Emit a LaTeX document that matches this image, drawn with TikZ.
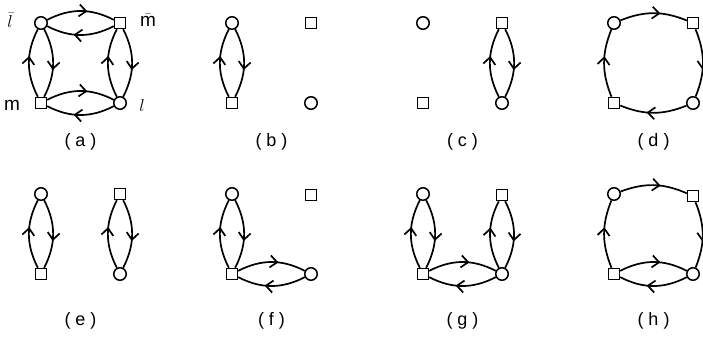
\documentclass[tikz,border=0pt]{standalone}
\usepackage{fontspec}
\setmainfont{Liberation Sans}
\usetikzlibrary{arrows.meta,decorations.markings}
\begin{document}
\begin{tikzpicture}[x=1pt,y=1pt,
 cnode/.style={circle,draw,line width=1.5pt,minimum size=12.5pt,inner sep=0pt},
 snode/.style={rectangle,draw,line width=1.5pt,minimum size=11pt,inner sep=0pt},
 flow/.style={line width=1.7pt, postaction={decorate},
   decoration={markings, mark=at position 0.6 with {\arrow{Straight Barb[length=7pt,width=12pt,line width=1.7pt]}}}},
 lens/.style={bend left=27},
 cyc/.style={bend left=22},
 captxt/.style={font=\fontsize{18}{18}\selectfont},
 lbl/.style={font=\fontsize{19}{19}\selectfont}
]
\useasboundingbox (0,0) rectangle (703,-337);
% (a)
\node[cnode] (a1) at (41,-23) {};
\node[snode] (a2) at (120,-23) {};
\node[snode] (a3) at (41,-103) {};
\node[cnode] (a4) at (120,-103) {};
\draw[flow] (a1) to[lens] (a2); \draw[flow] (a2) to[lens] (a1);
\draw[flow] (a3) to[lens] (a1); \draw[flow] (a1) to[lens] (a3);
\draw[flow] (a4) to[lens] (a2); \draw[flow] (a2) to[lens] (a4);
\draw[flow] (a3) to[lens] (a4); \draw[flow] (a4) to[lens] (a3);
\node[lbl] (tl) at (10,-20) {$\bar{l}$};
\node[lbl] (tm) at (148,-20) {$\bar{\mbox{m}}$};
\node[lbl] (bm) at (12,-105) {m};
\node[lbl] (bl) at (142,-105) {$l$};
\node[captxt] (ca) at (80.5,-142) {( a )};
% (b)
\node[cnode] (b1) at (232,-23) {};
\node[snode] (b2) at (311,-23) {};
\node[snode] (b3) at (232,-103) {};
\node[cnode] (b4) at (311,-103) {};
\draw[flow] (b3) to[lens] (b1); \draw[flow] (b1) to[lens] (b3);
\node[captxt] (cb) at (271.5,-142) {( b )};
% (c)
\node[cnode] (c1) at (423,-23) {};
\node[snode] (c2) at (502,-23) {};
\node[snode] (c3) at (423,-103) {};
\node[cnode] (c4) at (502,-103) {};
\draw[flow] (c4) to[lens] (c2); \draw[flow] (c2) to[lens] (c4);
\node[captxt] (cc) at (462.5,-142) {( c )};
% (d)
\node[cnode] (d1) at (614,-23) {};
\node[snode] (d2) at (693,-23) {};
\node[snode] (d3) at (614,-103) {};
\node[cnode] (d4) at (693,-103) {};
\draw[flow] (d1) to[cyc] (d2);
\draw[flow] (d2) to[cyc] (d4);
\draw[flow] (d4) to[cyc] (d3);
\draw[flow] (d3) to[cyc] (d1);
\node[captxt] (cd) at (653.5,-142) {( d )};
% (e)
\node[cnode] (e1) at (41,-194) {};
\node[snode] (e2) at (120,-194) {};
\node[snode] (e3) at (41,-274) {};
\node[cnode] (e4) at (120,-274) {};
\draw[flow] (e3) to[lens] (e1); \draw[flow] (e1) to[lens] (e3);
\draw[flow] (e4) to[lens] (e2); \draw[flow] (e2) to[lens] (e4);
\node[captxt] (ce) at (80.5,-321) {( e )};
% (f)
\node[cnode] (f1) at (232,-194) {};
\node[snode] (f2) at (311,-195) {};
\node[snode] (f3) at (232,-274) {};
\node[cnode] (f4) at (311,-274) {};
\draw[flow] (f3) to[lens] (f1); \draw[flow] (f1) to[lens] (f3);
\draw[flow] (f3) to[lens] (f4); \draw[flow] (f4) to[lens] (f3);
\node[captxt] (cf) at (271.5,-321) {( f )};
% (g)
\node[cnode] (g1) at (423,-194) {};
\node[snode] (g2) at (502,-195) {};
\node[snode] (g3) at (423,-274) {};
\node[cnode] (g4) at (502,-274) {};
\draw[flow] (g3) to[lens] (g1); \draw[flow] (g1) to[lens] (g3);
\draw[flow] (g4) to[lens] (g2); \draw[flow] (g2) to[lens] (g4);
\draw[flow] (g3) to[lens] (g4); \draw[flow] (g4) to[lens] (g3);
\node[captxt] (cg) at (462.5,-321) {( g )};
% (h)
\node[cnode] (h1) at (614,-194) {};
\node[snode] (h2) at (693,-196) {};
\node[snode] (h3) at (614,-274) {};
\node[cnode] (h4) at (693,-274) {};
\draw[flow] (h1) to[cyc] (h2);
\draw[flow] (h2) to[cyc] (h4);
\draw[flow] (h3) to[cyc] (h1);
\draw[flow] (h3) to[lens] (h4); \draw[flow] (h4) to[lens] (h3);
\node[captxt] (ch) at (653.5,-321) {( h )};
\end{tikzpicture}
\end{document}
